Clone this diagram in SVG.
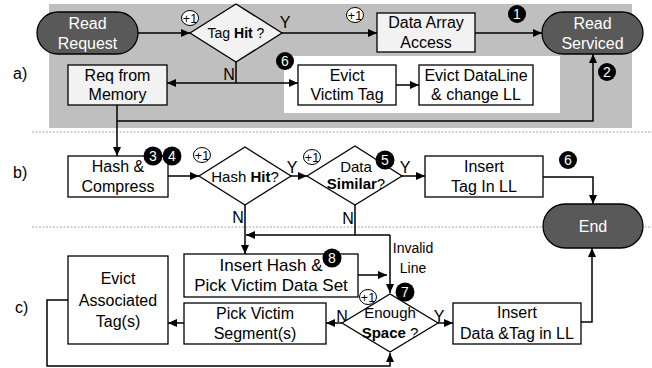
<svg xmlns="http://www.w3.org/2000/svg" width="652" height="368" viewBox="0 0 652 368">
<defs>
<marker id="ah" markerUnits="userSpaceOnUse" markerWidth="9" markerHeight="8" refX="9" refY="4" orient="auto">
<path d="M0,0 L9,4 L0,8 z" fill="#000"/>
</marker>
<style>
text{font-family:"Liberation Sans",Arial,sans-serif;fill:#000;text-anchor:middle}
.box{fill:#fff;stroke:#000;stroke-width:1.3}
.lbox{fill:#f2f2f2;stroke:#000;stroke-width:1.3}
.pill{fill:#595959;stroke:#000;stroke-width:1.3}
.pt{fill:#fff;font-size:16px}
.bt{font-size:16px}
.bt17{font-size:17px}
.dt{font-size:15px}
.yn{font-size:16px}
.sec{font-size:16px;text-anchor:start}
.num circle{fill:#000}
.num text{fill:#fff;font-size:14px}
.inc ellipse{fill:#fff;stroke:#000;stroke-width:1}
.inc text{font-size:12.5px}
.con path{fill:none;stroke:#000;stroke-width:1.5}
.arr{marker-end:url(#ah)}
.dot{stroke:#a6a6a6;stroke-width:1;stroke-dasharray:2 1.5}
</style>
</defs>

<!-- backgrounds -->
<rect x="49" y="4" width="583" height="124" fill="#bfbfbf"/>
<rect x="284" y="56" width="276" height="57" fill="#fff"/>
<line class="dot" x1="32" y1="132" x2="652" y2="132"/>
<line class="dot" x1="32" y1="227" x2="652" y2="227"/>

<text class="sec" x="13" y="79">a)</text>
<text class="sec" x="13" y="178">b)</text>
<text class="sec" x="15" y="313">c)</text>

<!-- connectors -->
<g id="connectors" class="con">
<path class="arr" d="M137,33 H190"/>
<path class="arr" d="M282,33 H377"/>
<path class="arr" d="M475,33 H542"/>
<path d="M236,62 V83"/>
<path class="arr" d="M236,83 H167"/>
<path class="arr" d="M236,83 H298"/>
<path class="arr" d="M396,85 H419"/>
<path class="arr" d="M117,105 V156"/>
<path class="arr" d="M117,121 H593 V54"/>
<path class="arr" d="M168,176 H199"/>
<path class="arr" d="M291,176 H307"/>
<path class="arr" d="M402,176 H425"/>
<path class="arr" d="M543,177 H593 V204"/>
<path class="arr" d="M245,205 V254"/>
<path d="M355,205 V235"/>
<path class="arr" d="M390,235 H246"/>
<path class="arr" d="M390,235 V293"/>
<path class="arr" d="M358,275 H387"/>
<path class="arr" d="M342,323 H326"/>
<path class="arr" d="M184,323 H168"/>
<path class="arr" d="M68,300 H47 V366 H390 V353"/>
<path class="arr" d="M438,323 H453"/>
<path class="arr" d="M581,322 H592 V248"/>
</g>

<!-- connector labels -->
<text class="yn" x="285" y="28">Y</text>
<text class="yn" x="229" y="80">N</text>
<text class="yn" x="292" y="173">Y</text>
<text class="yn" x="405" y="173">Y</text>
<text class="yn" x="238" y="223">N</text>
<text class="yn" x="348" y="224">N</text>
<text class="yn" x="342" y="322">N</text>
<text class="yn" x="439" y="322">Y</text>
<text style="font-size:14px" x="413" y="253">Invalid</text>
<text style="font-size:14px" x="413" y="273">Line</text>

<!-- nodes -->
<g id="read-request">
<rect class="pill" x="37" y="12" width="101" height="42" rx="21"/>
<text class="pt" x="87.5" y="29">Read</text>
<text class="pt" x="87.5" y="49">Request</text>
</g>
<g id="tag-hit">
<path class="lbox" d="M190,33 L236,4 L282,33 L236,62 z"/>
<text style="font-size:14px" x="236" y="38">Tag <tspan font-weight="bold">Hit</tspan> ?</text>
</g>
<g id="data-array">
<rect class="lbox" x="377" y="13" width="98" height="39"/>
<text class="bt" x="426" y="28">Data Array</text>
<text class="bt" x="426" y="48">Access</text>
</g>
<g id="read-serviced">
<rect class="pill" x="542" y="12" width="101" height="42" rx="21"/>
<text class="pt" x="592.5" y="29">Read</text>
<text class="pt" x="592.5" y="49">Serviced</text>
</g>
<g id="req-memory">
<rect class="lbox" x="68" y="65" width="99" height="40"/>
<text class="bt" x="117.5" y="81">Req from</text>
<text class="bt" x="117.5" y="100">Memory</text>
</g>
<g id="evict-victim-tag">
<rect class="box" x="298" y="65" width="98" height="40"/>
<text class="bt" x="347" y="81">Evict</text>
<text class="bt" x="347" y="100">Victim Tag</text>
</g>
<g id="evict-dataline">
<rect class="box" x="419" y="65" width="114" height="40"/>
<text class="bt" x="476" y="81">Evict DataLine</text>
<text class="bt" x="476" y="100">&amp; change LL</text>
</g>
<g id="hash-compress">
<rect class="box" x="68" y="156" width="100" height="41"/>
<text class="bt" x="118" y="172">Hash &amp;</text>
<text class="bt" x="118" y="192">Compress</text>
</g>
<g id="hash-hit">
<path class="box" d="M199,176 L245,147 L291,176 L245,205 z"/>
<text class="dt" x="245" y="182">Hash <tspan font-weight="bold">Hit</tspan>?</text>
</g>
<g id="data-similar">
<path class="box" d="M307,176 L355,146 L402,176 L355,205 z"/>
<text class="dt" x="356" y="172">Data</text>
<text class="dt" x="356" y="189"><tspan font-weight="bold">Similar</tspan>?</text>
</g>
<g id="insert-tag">
<rect class="box" x="425" y="156" width="118" height="41"/>
<text class="bt" x="484" y="172">Insert</text>
<text class="bt" x="484" y="192">Tag In LL</text>
</g>
<g id="end">
<rect class="pill" x="543" y="204" width="100" height="44" rx="22"/>
<text class="pt" x="593" y="232">End</text>
</g>
<g id="insert-hash">
<rect class="box" x="184" y="254" width="174" height="43"/>
<text class="bt17" x="271" y="271">Insert Hash &amp;</text>
<text class="bt17" x="271" y="291">Pick Victim Data Set</text>
</g>
<g id="enough-space">
<path class="box" d="M342,323 L390,294 L438,323 L390,352 z"/>
<text class="dt" x="390" y="318">Enough</text>
<text class="dt" x="390" y="338"><tspan font-weight="bold">Space</tspan> ?</text>
</g>
<g id="pick-victim-segment">
<rect class="box" x="184" y="303" width="142" height="41"/>
<text class="bt" x="255" y="319">Pick Victim</text>
<text class="bt" x="255" y="339">Segment(s)</text>
</g>
<g id="evict-associated">
<rect class="box" x="68" y="256" width="100" height="88"/>
<text class="bt" x="118" y="284">Evict</text>
<text class="bt" x="118" y="306">Associated</text>
<text class="bt" x="118" y="327">Tag(s)</text>
</g>
<g id="insert-data-tag">
<rect class="box" x="453" y="303" width="128" height="41"/>
<text class="bt" x="517" y="318">Insert</text>
<text class="bt" x="517" y="339">Data &amp;Tag in LL</text>
</g>

<!-- step counters -->
<g class="inc">
<ellipse cx="190" cy="18" rx="8.5" ry="7.5"/><text x="190" y="22.5">+1</text>
<ellipse cx="355" cy="15" rx="8.5" ry="7.5"/><text x="355" y="19.5">+1</text>
<ellipse cx="202" cy="155" rx="8.5" ry="7.5"/><text x="202" y="159.5">+1</text>
<ellipse cx="312" cy="157" rx="8.5" ry="7.5"/><text x="312" y="161.5">+1</text>
<ellipse cx="368" cy="297" rx="8.5" ry="7.5"/><text x="368" y="301.5">+1</text>
</g>
<g class="num">
<circle cx="517" cy="14" r="9"/><text x="517" y="19">1</text>
<circle cx="607" cy="72" r="9"/><text x="607" y="77">2</text>
<circle cx="285" cy="61" r="9"/><text x="285" y="66">6</text>
<circle cx="153" cy="156" r="9.5"/><text x="153" y="161">3</text>
<circle cx="172" cy="156" r="9.5"/><text x="172" y="161">4</text>
<circle cx="385" cy="160" r="9.5"/><text x="385" y="165">5</text>
<circle cx="568" cy="160" r="9"/><text x="568" y="165">6</text>
<circle cx="332" cy="258" r="9.5"/><text x="332" y="263">8</text>
<circle cx="405" cy="292" r="9.5"/><text x="405" y="297">7</text>
</g>
</svg>
